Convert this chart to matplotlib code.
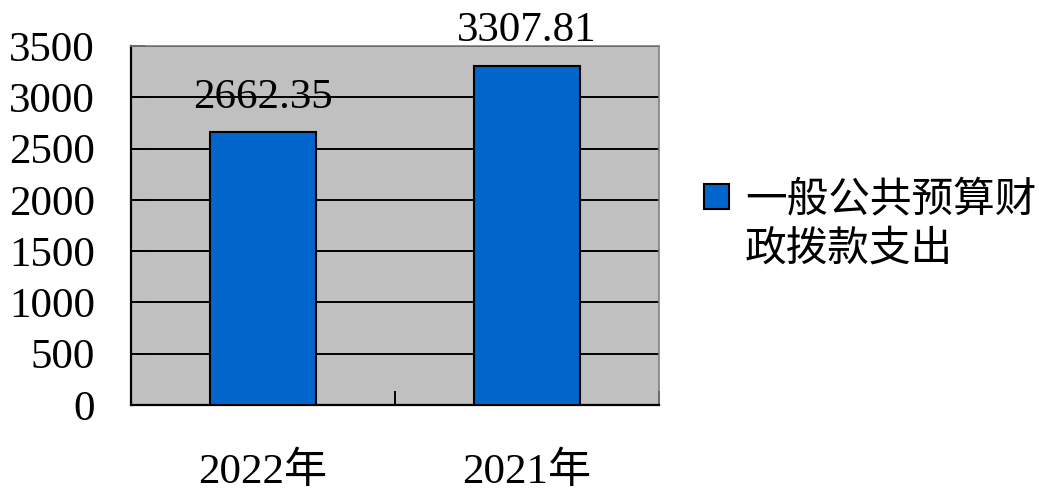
import matplotlib
matplotlib.use("Agg")
import matplotlib.pyplot as plt
from matplotlib.patches import Patch, Rectangle
from matplotlib.legend_handler import HandlerPatch

years = ["2022年", "2021年"]
spending = [2662.35, 3307.81]
value_labels = ["2662.35", "3307.81"]
series_name = "一般公共预算财\n政拨款支出"
y_ticks = [0, 500, 1000, 1500, 2000, 2500, 3000, 3500]

fonts = ["Liberation Serif", "Noto Sans CJK SC"]
plt.rcParams["font.family"] = fonts

fig = plt.figure(figsize=(10.39, 4.88), dpi=100)
ax = fig.add_axes([131 / 1039, 1 - 405 / 488, (659 - 131) / 1039, (405 - 46) / 488])
ax.set_facecolor("#C0C0C0")

x = list(range(len(years)))
bars = ax.bar(x, spending, width=0.4, color="#0066CC", edgecolor="black",
              linewidth=1.5, zorder=3)
ax.bar_label(bars, labels=value_labels, padding=11, fontsize=31, zorder=4)

ax.set_xlim(-0.5, len(years) - 0.5)
ax.set_ylim(0, 3500)
ax.set_yticks(y_ticks)
ax.set_yticklabels([str(v) for v in y_ticks], fontsize=31)
ax.yaxis.grid(True, color="black", linewidth=1.4, zorder=1)
ax.set_axisbelow(True)

# category labels sit under the bars, tick marks sit between categories
ax.set_xticks(x)
ax.set_xticklabels(years, fontsize=31)
ax.tick_params(axis="x", length=0, pad=34)
ax.set_xticks([i - 0.5 for i in range(len(years) + 1)], minor=True)
ax.tick_params(axis="x", which="minor", direction="in", length=10, width=1.4, color="black")
ax.tick_params(axis="y", direction="in", length=10, width=1.4, pad=26)

for side in ("left", "bottom"):
    ax.spines[side].set_color("black")
    ax.spines[side].set_linewidth(1.6)
for side in ("top", "right"):
    ax.spines[side].set_color("#808080")
    ax.spines[side].set_linewidth(1.2)


def square_key(legend, orig_handle, xdescent, ydescent, width, height, fontsize):
    # small square key centred in the handle area
    side = 0.6 * fontsize
    return Rectangle((-xdescent + (width - side) / 2, -ydescent + (height - side) / 2),
                     side, side)


handle = Patch(facecolor="#0066CC", edgecolor="black", linewidth=1.5)
leg = fig.legend([handle], [series_name], loc="upper left",
                 bbox_to_anchor=(698 / 1039, 1 - 182 / 488), frameon=False,
                 fontsize=30, handlelength=0.9, handleheight=0.7, handletextpad=0.23,
                 borderpad=0, borderaxespad=0,
                 handler_map={Patch: HandlerPatch(patch_func=square_key)})
for txt in leg.get_texts():
    txt.set_linespacing(1.32)
# keep the key level with the first line of the label
for column in leg._legend_handle_box.get_children():
    for row in column.get_children():
        row.align = "top"

fig.savefig("out.png", dpi=100)
